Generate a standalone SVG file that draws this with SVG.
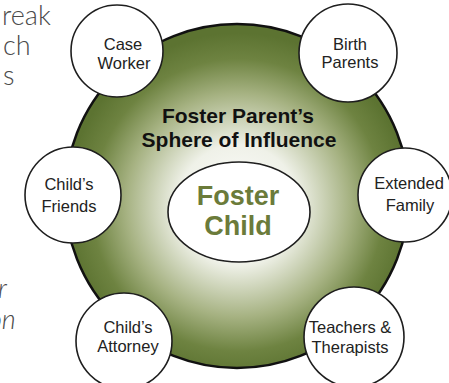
<svg xmlns="http://www.w3.org/2000/svg" width="449" height="383" viewBox="0 0 449 383">
  <style>
    .bg-text { font-family: Lato, "Open Sans", "Liberation Sans", sans-serif; font-weight: 300; font-size: 27px; fill: #4a4a4a; }
    .node circle { fill: #ffffff; stroke: #1e1e1e; stroke-width: 1.6; }
    .node text { font-family: "Liberation Sans", Arial, sans-serif; font-size: 16.5px; fill: #222222; text-anchor: middle; }
    .title { font-family: "Liberation Sans", Arial, sans-serif; font-weight: bold; font-size: 21px; fill: #111111; text-anchor: middle; }
    #foster-child text { font-family: "Liberation Sans", Arial, sans-serif; font-weight: bold; font-size: 27px; fill: #6b7b3a; text-anchor: middle; }
  </style>
  <defs>
    <radialGradient id="sphere" cx="238" cy="205" r="172" gradientUnits="userSpaceOnUse">
      <stop offset="0" stop-color="#ffffff"/>
      <stop offset="0.35" stop-color="#eff1e8"/>
      <stop offset="0.65" stop-color="#a6b282"/>
      <stop offset="0.85" stop-color="#6e8341"/>
      <stop offset="1" stop-color="#5c7331"/>
    </radialGradient>
  </defs>
  <rect width="449" height="383" fill="#ffffff"/>

  <!-- background page text fragments -->
  <text class="bg-text" x="2" y="25">reak</text>
  <text class="bg-text" x="3" y="55">ch</text>
  <text class="bg-text" x="3" y="85">s</text>
  <text class="bg-text" x="-2" y="298" font-style="italic">r</text>
  <text class="bg-text" x="-12" y="329" font-style="italic">on</text>

  <g id="connectors"></g>

  <g id="sphere-node">
    <circle cx="237" cy="196" r="172" fill="url(#sphere)" stroke="#111111" stroke-width="2.5"/>
    <text class="title" x="238" y="123">Foster Parent’s</text>
    <text class="title" x="239" y="147">Sphere of Influence</text>
  </g>

  <g id="foster-child">
    <ellipse cx="239" cy="212" rx="71" ry="50" fill="#ffffff" stroke="#1e1e1e" stroke-width="1.6"/>
    <text x="238" y="205">Foster</text>
    <text x="238" y="235">Child</text>
  </g>

  <g id="case-worker" class="node">
    <circle cx="117" cy="51" r="46"/>
    <text x="123" y="50">Case</text>
    <text x="124" y="69">Worker</text>
  </g>

  <g id="birth-parents" class="node">
    <circle cx="348" cy="53" r="49"/>
    <text x="350" y="50">Birth</text>
    <text x="350" y="68">Parents</text>
  </g>

  <g id="extended-family" class="node">
    <circle cx="405" cy="195" r="47"/>
    <text x="409" y="189">Extended</text>
    <text x="410" y="211">Family</text>
  </g>

  <g id="teachers-therapists" class="node">
    <circle cx="354" cy="337" r="50"/>
    <text x="350" y="333">Teachers &amp;</text>
    <text x="350" y="353">Therapists</text>
  </g>

  <g id="childs-attorney" class="node">
    <circle cx="124" cy="341" r="48"/>
    <text x="128" y="333">Child’s</text>
    <text x="128" y="352">Attorney</text>
  </g>

  <g id="childs-friends" class="node">
    <circle cx="73" cy="195" r="48"/>
    <text x="69" y="190">Child’s</text>
    <text x="69" y="212">Friends</text>
  </g>
</svg>
